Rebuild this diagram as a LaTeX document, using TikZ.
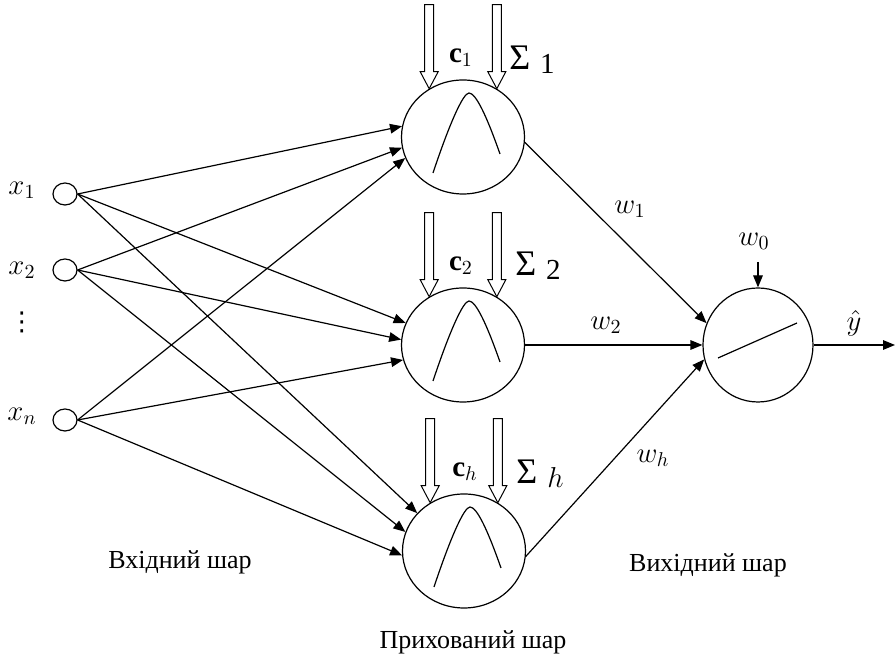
\documentclass[tikz,border=0pt]{standalone}
\usepackage{fontspec}
\setmainfont{Liberation Serif}
\newfontfamily\symfont{DejaVu Sans}
\usetikzlibrary{shapes.geometric,arrows.meta}

\newcommand{\sigmalab}[1]{{\fontsize{18}{20}\selectfont Σ}\hspace{5pt}\raisebox{-2pt}{#1}}

\begin{document}
\begin{tikzpicture}[x=0.5pt,y=-0.5pt,line width=0.6pt,
    font=\fontsize{13}{15}\selectfont,
    lab/.style={font=\fontsize{14.5}{17}\selectfont},
    inp/.style={draw, ellipse, minimum width=12pt, minimum height=11pt, inner sep=0pt},
    hid/.style={draw, ellipse, minimum width=61.5pt, minimum height=57pt, inner sep=0pt},
    outp/.style={draw, ellipse, minimum width=55pt, minimum height=57pt, inner sep=0pt},
    conn/.style={-{Triangle[length=6pt,width=4.8pt]}},
    hollow/.pic={\draw[fill=white, line width=0.5pt] (0,0) -- (-9,-17) -- (-4.5,-17) -- (-4.5,-84)
        -- (4.5,-84) -- (4.5,-17) -- (9,-17) -- cycle;},
    gauss/.pic={\draw (-30,36) .. controls (-14,-12) and (0,-44) .. (6,-44)
        .. controls (13,-44) and (24,-20) .. (37,17);},
    linear/.pic={\draw (-40,13) -- (39,-22);}]
  \useasboundingbox (0,0) rectangle (896,656);

  % Input layer
  \node[inp] (x1) at (65,194) {};
  \node[inp] (x2) at (65,270) {};
  \node[inp] (xn) at (65,420) {};
  \node[lab] (lx1) at (22,190) {$x_1$};
  \node[lab] (lx2) at (22,270) {$x_2$};
  \node (ldots) at (22,322) {\symfont ⋮};
  \node[lab] (lxn) at (22,416) {$x_n$};

  % Hidden layer
  \node[hid] (h1) at (463,137) {};
  \node[hid] (h2) at (463,345) {};
  \node[hid] (hh) at (464,551) {};
  \foreach \h in {h1,h2,hh} {
    \pic at (\h) {gauss};
    \pic at (\h.125) {hollow};
    \pic at (\h.55) {hollow};
  }
  \node[lab] (c1) at (461,58) {$\mathbf{c}_1$};
  \node[lab] (c2) at (461,266) {$\mathbf{c}_2$};
  \node[lab] (ch) at (465,472) {$\mathbf{c}_h$};
  \node[lab] (s1) at (532,60) {\sigmalab{1}};
  \node[lab] (s2) at (538,266) {\sigmalab{2}};
  \node[lab] (sh) at (540,474) {\sigmalab{$h$}};

  % Output layer
  \node[outp] (o) at (758,345) {};
  \pic at (o) {linear};
  \coordinate (w0) at (758,262);
  \coordinate (yend) at (895,345);

  % Connections
  \foreach \s/\a/\b/\c in {x1/170/159/141, x2/190/175/162, xn/200/194/184} {
    \draw[conn] (\s.east) -- (h1.\a);
    \draw[conn] (\s.east) -- (h2.\b);
    \draw[conn] (\s.east) -- (hh.\c);
  }
  \draw[conn] (h1.-5) -- (o.157);
  \draw[conn] (h2.east) -- (o.west);
  \draw[conn] (hh.-5) -- (o.195);
  \draw[conn] (w0) -- (o.north);
  \draw[conn] (o.east) -- (yend);

  \node[lab] (lw1) at (630,209) {$w_1$};
  \node[lab] (lw2) at (606,325) {$w_2$};
  \node[lab] (lwh) at (653,458) {$w_h$};
  \node[lab] (lw0) at (754,241) {$w_0$};
  \node[lab] (ly) at (854,323) {$\hat{y}$};

  % Layer names
  \node (inl) at (180,562) {Вхідний шар};
  \node (hidl) at (473,642) {Прихований шар};
  \node (outl) at (708,565) {Вихідний шар};
\end{tikzpicture}
\end{document}
